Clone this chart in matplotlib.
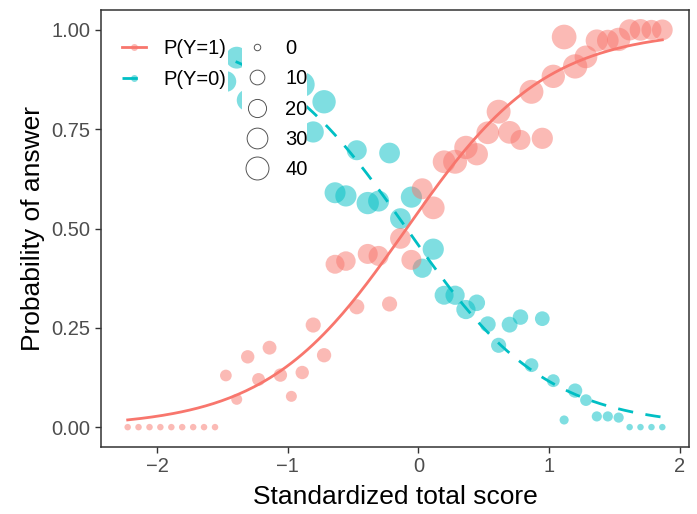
import numpy as np
import matplotlib
matplotlib.use("Agg")
import matplotlib.pyplot as plt
from matplotlib.lines import Line2D
from matplotlib.patches import Rectangle

plt.rcParams['font.family'] = ['Liberation Sans', 'DejaVu Sans']

# standardized total score (one point per score)
score = [-2.224, -2.141, -2.057, -1.974, -1.890, -1.807, -1.723, -1.640, -1.556, -1.473,
         -1.390, -1.306, -1.223, -1.139, -1.056, -0.972, -0.889, -0.805, -0.722, -0.638,
         -0.555, -0.472, -0.388, -0.305, -0.221, -0.138, -0.054, 0.029, 0.113, 0.196,
         0.280, 0.363, 0.446, 0.530, 0.613, 0.697, 0.780, 0.864, 0.947, 1.031,
         1.114, 1.198, 1.281, 1.364, 1.448, 1.531, 1.615, 1.698, 1.782, 1.865]

# observed proportion answering 1
p1 = [0, 0, 0, 0, 0, 0, 0, 0, 0, 0.13,
      0.07, 0.177, 0.12, 0.2, 0.131, 0.0775, 0.1375, 0.257, 0.181, 0.41,
      0.418, 0.303, 0.436, 0.431, 0.31, 0.475, 0.421, 0.6, 0.552, 0.668,
      0.668, 0.704, 0.687, 0.741, 0.794, 0.742, 0.723, 0.844, 0.727, 0.883,
      0.982, 0.908, 0.932, 0.973, 0.973, 0.976, 1.0, 1.0, 1.0, 1.0]

# counts for each answer
n1 = [0, 0, 0, 0, 0, 0, 0, 0, 0, 4,
      3, 7, 6, 8, 7, 3, 7, 11, 9, 23,
      25, 11, 27, 27, 11, 30, 27, 31, 39, 39,
      45, 42, 37, 39, 45, 39, 27, 45, 32, 42,
      49, 47, 39, 37, 34, 42, 32, 34, 27, 30]
n0 = [4, 3, 6, 5, 8, 7, 10, 12, 15, 30,
      35, 35, 40, 38, 42, 45, 50, 32, 42, 31,
      32, 27, 37, 31, 30, 30, 32, 24, 32, 23,
      24, 24, 15, 13, 11, 13, 12, 8, 10, 6,
      1, 9, 4, 2, 2, 2, 0, 0, 0, 0]

# logistic fit
b0, b1 = 0.17, 1.87

size_breaks = [0, 10, 20, 30, 40]

red = '#F8766D'
cyan = '#00BFC4'


def diam_pt(n):
    return (6.5 + 2.6 * np.sqrt(np.asarray(n, dtype=float))) * 0.72


fig = plt.figure(figsize=(6.97, 5.14), dpi=100)
ax = fig.add_axes([101 / 697, 67 / 514, 588 / 697, 437 / 514])

x = np.array(score)
p1 = np.array(p1)
ax.scatter(x, 1 - p1, s=diam_pt(n0) ** 2, color=cyan, alpha=0.5, linewidths=0, zorder=2)
ax.scatter(x, p1, s=diam_pt(n1) ** 2, color=red, alpha=0.5, linewidths=0, zorder=2)

xx = np.linspace(x.min(), x.max(), 200)
fit = 1 / (1 + np.exp(-(b0 + b1 * xx)))
dash = (0, (5.5, 4.5))
ax.plot(xx, fit, color=red, lw=2.0, zorder=2.5)
ax.plot(xx, 1 - fit, color=cyan, lw=2.0, ls=dash, zorder=2.5)

ax.set_xlim(-2.428, 2.069)
ax.set_ylim(-0.05, 1.05)
ax.set_xticks([-2, -1, 0, 1, 2])
ax.set_xticklabels(['\u22122', '\u22121', '0', '1', '2'])
ax.set_yticks([0, 0.25, 0.5, 0.75, 1.0])
ax.set_yticklabels(['0.00', '0.25', '0.50', '0.75', '1.00'])
ax.tick_params(direction='out', length=4.5, width=1.0, color='#333333',
               labelcolor='#4D4D4D', labelsize=14.5, pad=3)
for sp in ax.spines.values():
    sp.set_color('#333333')
    sp.set_linewidth(1.1)
    sp.set_zorder(6)

ax.set_xlabel('Standardized total score', fontsize=19, labelpad=6)
ax.set_ylabel('Probability of answer', fontsize=19, labelpad=5)

# legend backgrounds
ax.add_patch(Rectangle((0.0, 0.805), 0.216, 0.195, transform=ax.transAxes,
                       facecolor='white', edgecolor='none', zorder=3))
ax.add_patch(Rectangle((0.24, 0.593), 0.11, 0.407, transform=ax.transAxes,
                       facecolor='white', edgecolor='none', zorder=3))

fs = 14.5
h1 = [Line2D([], [], color=red, lw=2.0, marker='o', ms=5,
             markerfacecolor=(0.973, 0.463, 0.427, 0.5), markeredgecolor='none'),
      Line2D([], [], color=cyan, lw=2.0, ls=dash, marker='o', ms=5,
             markerfacecolor=(0.0, 0.749, 0.769, 0.5), markeredgecolor='none')]
leg1 = ax.legend(h1, ['P(Y=1)', 'P(Y=0)'], loc='upper left',
                 bbox_to_anchor=(122 / 697, 1 - 39 / 514), bbox_transform=fig.transFigure,
                 frameon=False, fontsize=fs, borderpad=0, borderaxespad=0,
                 handlelength=1.19, handletextpad=0.84, labelspacing=0.58)
leg1.set_zorder(5)
ax.add_artist(leg1)

h2 = [Line2D([], [], ls='', marker='o', ms=diam_pt(b), markerfacecolor='white',
             markeredgecolor='#555555', markeredgewidth=0.7) for b in size_breaks]
leg2 = ax.legend(h2, [str(b) for b in size_breaks], loc='upper left',
                 bbox_to_anchor=(241 / 697, 1 - 39 / 514), bbox_transform=fig.transFigure,
                 frameon=False, fontsize=fs, borderpad=0, borderaxespad=0,
                 handlelength=1.6, handletextpad=0.6, labelspacing=0.56)
leg2.set_zorder(5)

fig.savefig('out.png', dpi=100)
